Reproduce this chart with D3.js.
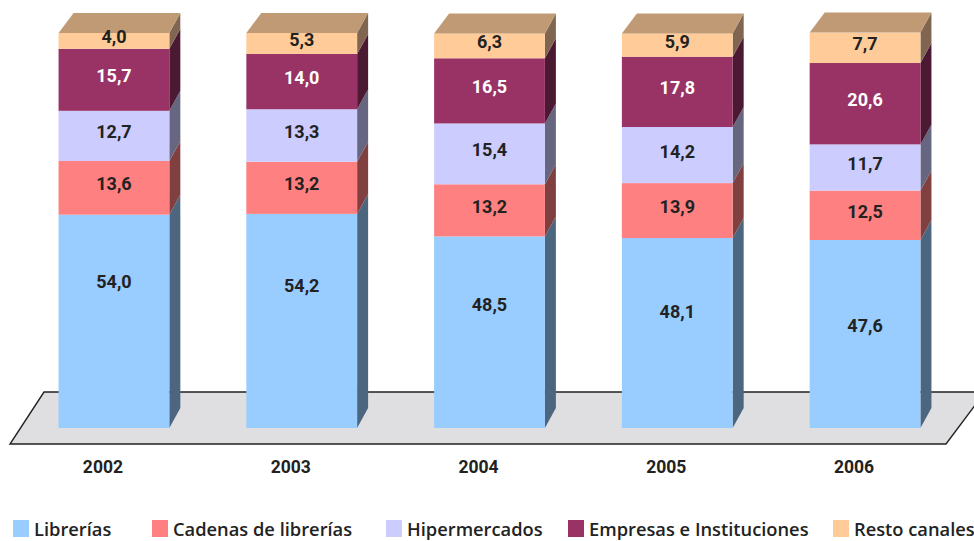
<!DOCTYPE html>
<html>
<head>
<meta charset="utf-8">
<script src="https://cdn.jsdelivr.net/npm/d3@7"></script>
<style>
  html, body { margin: 0; padding: 0; background: #fff; }
  svg { display: block; }
</style>
</head>
<body>
<svg id="chart" width="974" height="541"></svg>
<script>
// Reparto de ventas por canal (%)
const years = ["2002", "2003", "2004", "2005", "2006"];
const channels = ["Librerías", "Cadenas de librerías", "Hipermercados", "Empresas e Instituciones", "Resto canales"];
const librerias = [54.0, 54.2, 48.5, 48.1, 47.6];
const cadenas   = [13.6, 13.2, 13.2, 13.9, 12.5];
const hiper     = [12.7, 13.3, 15.4, 14.2, 11.7];
const empresas  = [15.7, 14.0, 16.5, 17.8, 20.6];
const resto     = [4.0, 5.3, 6.3, 5.9, 7.7];

const seriesValues = [librerias, cadenas, hiper, empresas, resto];
const frontColors = ["#99ccff", "#ff8080", "#ccccff", "#993366", "#ffcc99"];
const sideColors  = ["#4c6680", "#804040", "#666680", "#4c1933", "#806650"];
const topColor = "#bf9a74";
const labelColors = ["#222", "#222", "#222", "#fff", "#222"];
// desplazamiento vertical de la etiqueta del segmento inferior, por barra
const baseLabelShift = [-40, -35, -28, -21, -8];

const rows = years.map((y, i) => {
  const r = { year: y };
  channels.forEach((c, k) => r[c] = seriesValues[k][i]);
  return r;
});
const stacked = d3.stack().keys(channels)(rows);

const svg = d3.select("#chart");
const x = d3.scaleBand().domain(years).range([21, 958]).paddingInner(0.41).paddingOuter(0.2);
const y = d3.scaleLinear().domain([0, 100]).range([428, 33]);

const dxSide = 11, dxBack = 15, dy = -20;
const fontFam = "Roboto, 'Open Sans', sans-serif";

// Suelo
svg.append("path")
  .attr("d", "M44,392 L985,392 L946,444 L10,444 Z")
  .attr("fill", "#dfdfe1")
  .attr("stroke", "#222")
  .attr("stroke-width", 1.4);

const bars = svg.append("g");
years.forEach((yr, i) => {
  const x0 = x(yr), x1 = x0 + x.bandwidth();
  const g = bars.append("g");
  stacked.forEach((s, k) => {
    const y0 = y(s[i][0]), y1 = y(s[i][1]);
    // cara lateral
    g.append("path")
      .attr("d", `M${x1},${y0} L${x1 + dxSide},${y0 + dy} L${x1 + dxSide},${y1 + dy} L${x1},${y1} Z`)
      .attr("fill", sideColors[k]);
    // cara frontal
    g.append("rect")
      .attr("x", x0).attr("y", y1)
      .attr("width", x1 - x0).attr("height", y0 - y1)
      .attr("fill", frontColors[k]);
  });
  // tapa superior
  const yt = y(stacked[stacked.length - 1][i][1]);
  g.append("path")
    .attr("d", `M${x0},${yt} L${x1},${yt} L${x1 + dxSide},${yt + dy} L${x0 + dxBack},${yt + dy} Z`)
    .attr("fill", topColor);
  // etiquetas de valores
  stacked.forEach((s, k) => {
    const v = seriesValues[k][i];
    const shift = k === 0 ? baseLabelShift[i] : -4;
    g.append("text")
      .attr("x", (x0 + x1) / 2)
      .attr("y", (y(s[i][0]) + y(s[i][1])) / 2 + shift)
      .attr("dy", "0.36em")
      .attr("text-anchor", "middle")
      .attr("font-family", fontFam)
      .attr("font-weight", 700)
      .attr("font-size", 18)
      .attr("fill", labelColors[k])
      .text(d3.format(".1f")(v).replace(".", ","));
  });
});

// Eje de años
const axis = svg.append("g").attr("transform", "translate(-11,467)")
  .call(d3.axisBottom(x).tickSize(0).tickPadding(0));
axis.select(".domain").remove();
axis.selectAll("text")
  .attr("dy", "0.36em")
  .attr("font-family", fontFam)
  .attr("font-weight", 700)
  .attr("font-size", 17.5)
  .attr("fill", "#222");

// Leyenda
const legendX = [13, 152, 386, 568, 833];
const legend = svg.append("g");
channels.forEach((c, k) => {
  const lg = legend.append("g").attr("transform", `translate(${legendX[k]},520)`);
  lg.append("rect").attr("width", 16).attr("height", 17).attr("fill", frontColors[k]);
  lg.append("text")
    .attr("x", 21).attr("y", 9).attr("dy", "0.36em")
    .attr("font-family", "'Open Sans', sans-serif")
    .attr("font-weight", 600)
    .attr("font-size", 18.3)
    .attr("fill", "#222")
    .text(c);
});
</script>
</body>
</html>
